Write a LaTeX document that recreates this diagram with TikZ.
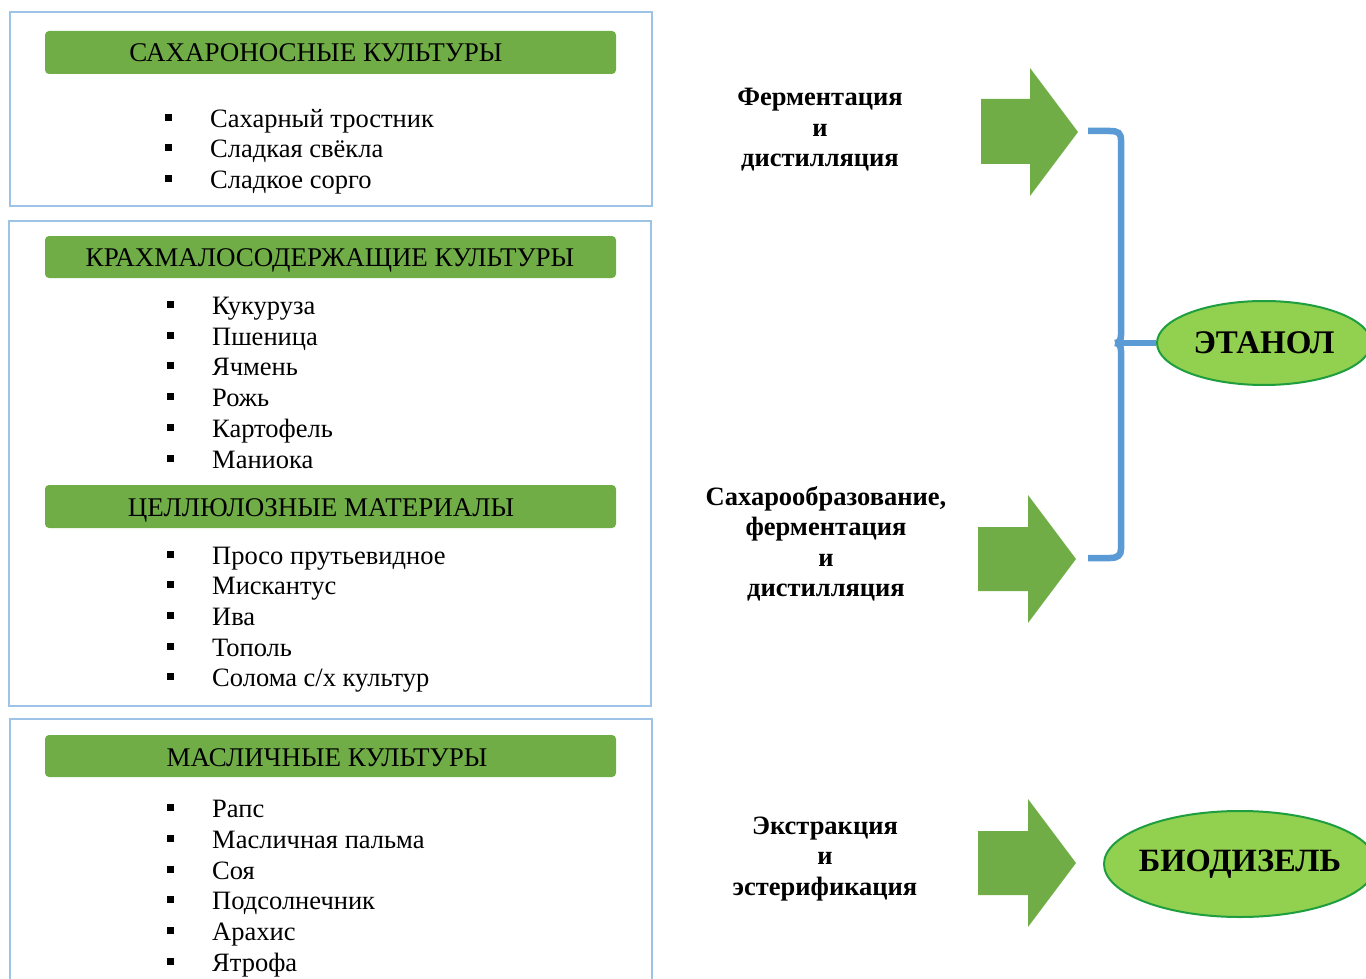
\documentclass[tikz,border=0pt]{standalone}
\usepackage{fontspec}
\setmainfont{Liberation Serif}
\usetikzlibrary{shapes.geometric}
\definecolor{barg}{HTML}{70AD47}
\definecolor{boxb}{HTML}{9DC3E6}
\definecolor{brb}{HTML}{5B9BD5}
\definecolor{elf}{HTML}{92D050}
\definecolor{eld}{HTML}{1E9E3E}
\tikzset{
  frame/.style={draw=boxb, line width=2pt},
  bar/.style={fill=barg, rounded corners=4pt},
  head/.style={font=\fontsize{27}{27}\selectfont, inner sep=0pt, anchor=base},
  item/.style={font=\fontsize{26.5}{26.5}\selectfont, inner sep=0pt, anchor=base west},
  bul/.style={fill=black, inner sep=0pt, minimum size=7pt, draw=none},
  proc/.style={font=\bfseries\fontsize{26.5}{30.5}\selectfont, align=center, inner sep=0pt},
  bigarrow/.style={fill=barg, draw=none},
  brace/.style={draw=brb, line width=6.5pt},
  prod/.style={ellipse, fill=elf, draw=eld, line width=2pt, inner xsep=-15pt, inner ysep=0pt}
}
\begin{document}
\begin{tikzpicture}[x=1pt,y=-1pt]
\useasboundingbox (0,0) rectangle (1366,979);
% frames
\draw[frame] (10,12) rectangle (652,206);
\draw[frame] (9,221) rectangle (651,706);
\draw[frame] (10,1000) -- (10,719) -- (652,719) -- (652,1000);
% bars
\fill[bar] (45,31) rectangle (616,74);
\fill[bar] (45,236) rectangle (616,278);
\fill[bar] (45,485) rectangle (616,528);
\fill[bar] (45,735) rectangle (616,777);
\node[head] (h1) at (316,62) {САХАРОНОСНЫЕ КУЛЬТУРЫ};
\node[head] (h2) at (330,266) {КРАХМАЛОСОДЕРЖАЩИЕ КУЛЬТУРЫ};
\node[head] (h3) at (321,516) {ЦЕЛЛЮЛОЗНЫЕ МАТЕРИАЛЫ};
\node[head] (h4) at (327,766) {МАСЛИЧНЫЕ КУЛЬТУРЫ};
% lists
\foreach \t/\y [count=\i] in {{Сахарный тростник}/120, {Сладкая свёкла}/150, {Сладкое сорго}/181}{
  \node[bul] (ab\i) at (168,\y-2) {};
  \node[item] (a\i) at (210,\y+8) {\t};
}
\foreach \t/\y [count=\i] in {{Кукуруза}/306, {Пшеница}/337, {Ячмень}/367, {Рожь}/398, {Картофель}/429, {Маниока}/460}{
  \node[bul] (bb\i) at (170,\y-2) {};
  \node[item] (b\i) at (212,\y+8) {\t};
}
\foreach \t/\y [count=\i] in {{Просо прутьевидное}/556, {Мискантус}/586, {Ива}/617, {Тополь}/648, {Солома с/х культур}/678}{
  \node[bul] (cb\i) at (170,\y-2) {};
  \node[item] (c\i) at (212,\y+8) {\t};
}
\foreach \t/\y [count=\i] in {{Рапс}/809, {Масличная пальма}/840, {Соя}/871, {Подсолнечник}/901, {Арахис}/932, {Ятрофа}/963}{
  \node[bul] (db\i) at (170,\y-2) {};
  \node[item] (d\i) at (212,\y+8) {\t};
}
% process labels
\node[proc] (p1) at (820,130) {Ферментация\\и\\дистилляция};
\node[proc] (p2) at (826,544) {Сахарообразование,\\ферментация\\и\\дистилляция};
\node[proc] (p3) at (825,859) {Экстракция\\и\\эстерификация};
% arrows
\fill[bigarrow] (981,99) -- (1030,99) -- (1030,68) -- (1078,132) -- (1030,196) -- (1030,164) -- (981,164) -- cycle;
\fill[bigarrow] (978,527) -- (1028,527) -- (1028,495) -- (1076,559) -- (1028,623) -- (1028,591) -- (978,591) -- cycle;
\fill[bigarrow] (978,831) -- (1028,831) -- (1028,799) -- (1076,863) -- (1028,927) -- (1028,895) -- (978,895) -- cycle;
% products
\node[prod, minimum width=214pt, minimum height=84pt, font=\bfseries\fontsize{33}{33}\selectfont] (eth) at (1264,343) {ЭТАНОЛ};
\node[prod, minimum width=272pt, minimum height=106pt, font=\bfseries\fontsize{32.5}{32.5}\selectfont] (bio) at (1240,864) {БИОДИЗЕЛЬ};
% brace
\coordinate (bt) at (1088,131);
\coordinate (bb) at (1088,558);
\draw[brace] (bt) -- (1110,131) .. controls (1118,131) and (1121,133) .. (1121,140) -- (1121,335)
  .. controls (1121,340) and (1119,343) .. (1115,343);
\draw[brace] (1115,343) .. controls (1119,343) and (1121,346) .. (1121,351) -- (1121,549)
  .. controls (1121,555) and (1118,558) .. (1110,558) -- (bb);
\draw[brace] (1117,343) -- (eth.west);
\end{tikzpicture}
\end{document}
